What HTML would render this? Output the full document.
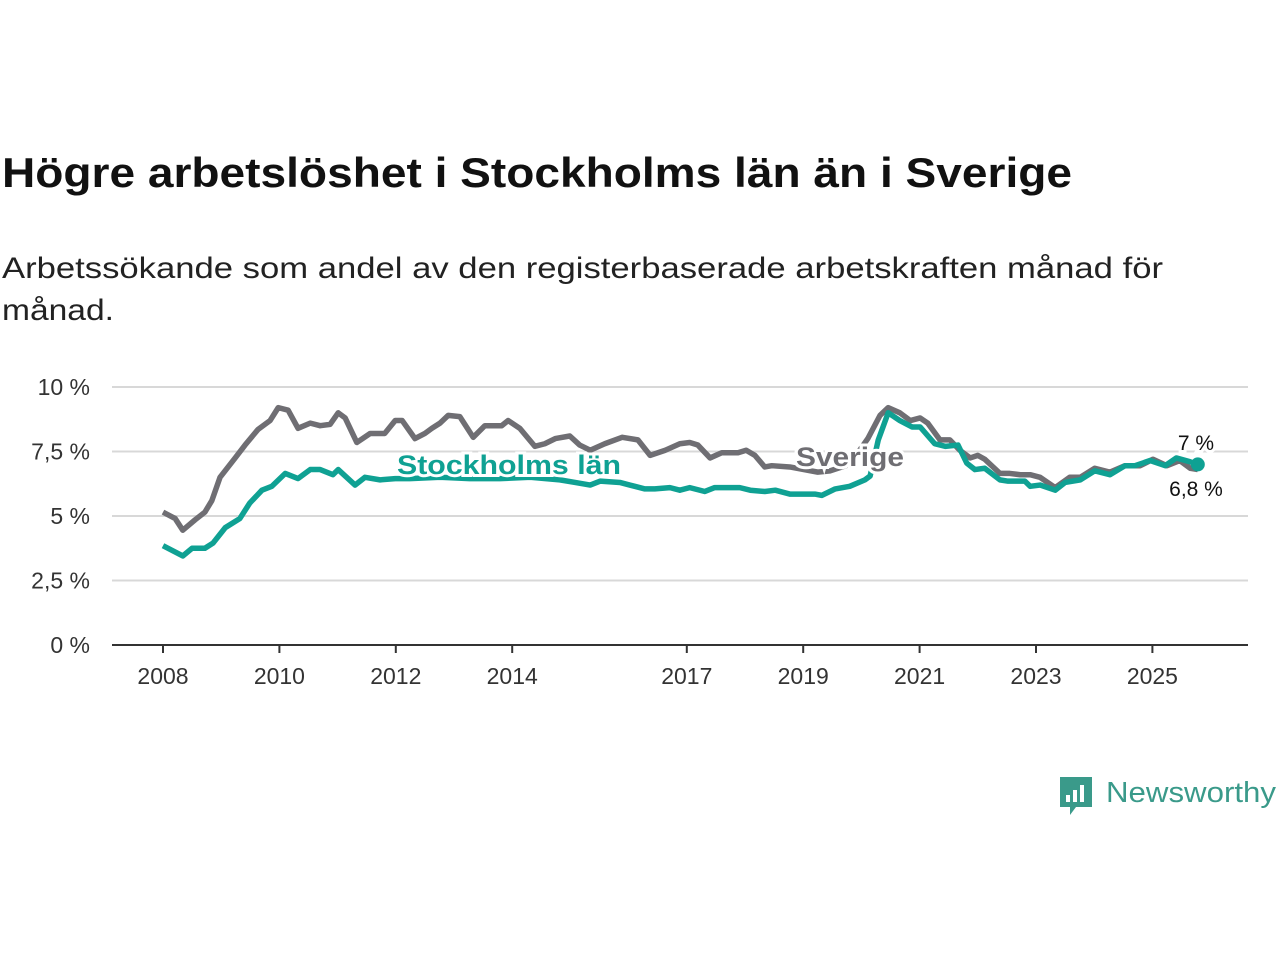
<!DOCTYPE html>
<html><head><meta charset="utf-8"><style>
body{margin:0;background:#fff;width:1280px;height:960px;overflow:hidden;font-family:"Liberation Sans",sans-serif}
</style></head><body>
<svg width="1280" height="960" style="position:absolute;left:0;top:0">
<text x="2" y="187" font-size="42" font-weight="bold" fill="#111" textLength="1070" lengthAdjust="spacingAndGlyphs">Högre arbetslöshet i Stockholms län än i Sverige</text>
<text x="2" y="278" font-size="30" fill="#222" textLength="1161" lengthAdjust="spacingAndGlyphs">Arbetssökande som andel av den registerbaserade arbetskraften månad för</text>
<text x="2" y="320" font-size="30" fill="#222" textLength="112" lengthAdjust="spacingAndGlyphs">månad.</text>
<g id="grid"></g><g id="axis"></g><g id="lines"></g><g id="labels"></g>
<g>
<path d="M1060 777h32v30h-16l-6 8v-8h-10z" fill="#3a9a8a"/>
<rect x="1066" y="795" width="4" height="7" fill="#fff"/><rect x="1073" y="790" width="4" height="12" fill="#fff"/><rect x="1080" y="785" width="4" height="17" fill="#fff"/>
<text x="1106" y="802" font-size="29" fill="#3a9a8a" textLength="170" lengthAdjust="spacingAndGlyphs">Newsworthy</text>
</g>
</svg>
<script>
const yTicks=[0,2.5,5,7.5,10];
const yTickLabels=["0 %","2,5 %","5 %","7,5 %","10 %"];
const xTicks=[2008,2010,2012,2014,2017,2019,2021,2023,2025];
const sverigeDates=[0,.21,.34,.55,.72,.84,.98,1.24,1.41,1.63,1.84,1.98,2.15,2.32,2.53,2.70,2.87,3.01,3.13,3.33,3.56,3.81,3.99,4.11,4.33,4.50,4.62,4.76,4.90,5.10,5.33,5.53,5.82,5.93,6.13,6.39,6.56,6.74,6.99,7.16,7.34,7.59,7.89,8.16,8.37,8.63,8.88,9.05,9.19,9.40,9.60,9.88,10.02,10.17,10.34,10.46,10.77,11.25,11.46,11.80,12.11,12.32,12.46,12.66,12.84,13.01,13.14,13.35,13.52,13.69,13.87,14.00,14.12,14.38,14.55,14.73,14.90,15.07,15.33,15.58,15.76,16.01,16.27,16.53,16.79,17.01,17.25,17.47,17.65,17.78];
const sverigeValues=[5.15,4.9,4.45,4.85,5.15,5.6,6.5,7.25,7.75,8.35,8.7,9.2,9.1,8.4,8.6,8.5,8.55,9.0,8.8,7.85,8.2,8.2,8.7,8.7,8.0,8.2,8.4,8.6,8.9,8.85,8.05,8.5,8.5,8.7,8.4,7.7,7.8,8.0,8.1,7.75,7.55,7.8,8.05,7.95,7.35,7.55,7.8,7.85,7.75,7.25,7.45,7.45,7.55,7.35,6.9,6.95,6.9,6.7,6.75,7.0,8.0,8.9,9.2,9.0,8.7,8.8,8.6,7.95,7.95,7.55,7.25,7.35,7.2,6.65,6.65,6.6,6.6,6.5,6.1,6.5,6.5,6.85,6.7,6.95,6.95,7.2,6.95,7.15,6.85,6.8];
const stockholmDates=[0,.34,.50,.72,.86,1.07,1.32,1.49,1.70,1.87,2.10,2.32,2.53,2.70,2.92,3.01,3.30,3.47,3.73,3.99,4.24,4.76,5.27,5.79,6.31,6.82,7.08,7.34,7.51,7.85,8.02,8.28,8.45,8.71,8.88,9.05,9.31,9.48,9.91,10.09,10.34,10.52,10.77,11.20,11.32,11.55,11.80,12.06,12.15,12.29,12.46,12.66,12.87,13.01,13.26,13.44,13.66,13.81,13.95,14.12,14.38,14.52,14.81,14.90,15.07,15.33,15.50,15.76,16.01,16.27,16.53,16.70,16.96,17.22,17.41,17.65,17.78];
const stockholmValues=[3.85,3.45,3.75,3.75,3.95,4.55,4.9,5.5,6.0,6.15,6.65,6.45,6.8,6.8,6.6,6.8,6.2,6.5,6.4,6.45,6.45,6.5,6.45,6.45,6.5,6.4,6.3,6.2,6.35,6.3,6.2,6.05,6.05,6.1,6.0,6.1,5.95,6.1,6.1,6.0,5.95,6.0,5.85,5.85,5.8,6.05,6.15,6.4,6.55,7.95,9.0,8.7,8.45,8.45,7.8,7.7,7.75,7.05,6.8,6.85,6.4,6.35,6.35,6.15,6.2,6.0,6.3,6.4,6.75,6.6,6.95,6.95,7.15,6.95,7.25,7.1,7.0];
const X=d=>163+d*58.2, XY=y=>163+(y-2008)*58.2, Y=v=>645-v*25.8;
const NS="http://www.w3.org/2000/svg";
function mk(tag,attrs,parent){const e=document.createElementNS(NS,tag);for(const k in attrs)e.setAttribute(k,attrs[k]);document.getElementById(parent).appendChild(e);return e;}
yTicks.forEach((t,i)=>{
  const l=mk('line',{x1:112,x2:1248,y1:Y(t),y2:Y(t),stroke:t===0?'#333':'#d8d8d8','stroke-width':2},'grid');
  
  
  const tx=mk('text',{x:90,y:Y(t)+8,'font-size':23,fill:'#333','text-anchor':'end'},'axis');
  tx.textContent=yTickLabels[i];
  
  
});
xTicks.forEach(t=>{
  const l=mk('line',{x1:XY(t),x2:XY(t),y1:645,y2:653,stroke:'#333','stroke-width':2},'axis');
  
  
  const tx=mk('text',{x:XY(t),y:684,'font-size':23,fill:'#333','text-anchor':'middle'},'axis');
  tx.textContent=t;
  
  
});
function line(d,v,c,name){
  const p=mk('polyline',{points:d.map((x,i)=>X(x)+','+Y(v[i])).join(' '),fill:'none',stroke:c,'stroke-width':5.5,'stroke-linejoin':'round'},'lines');
  
  
}
line(sverigeDates,sverigeValues,'#6f6e73','sverige-line');
line(stockholmDates,stockholmValues,'#0fa193','stockholm-line');
const dot=mk('circle',{cx:X(stockholmDates[stockholmDates.length-1]),cy:Y(stockholmValues[stockholmValues.length-1]),r:7,fill:'#0fa193'},'lines');


function lab(x,y,txt,c,size,w,name,anchor,len){
  const a={x,y,'font-size':size,'font-weight':w,fill:c,stroke:'#fff','stroke-width':6,'paint-order':'stroke','text-anchor':anchor||'start'};
  if(len){a.textLength=len;a.lengthAdjust='spacingAndGlyphs';}
  const t=mk('text',a,'labels');
  t.textContent=txt;
  
  
}
lab(397,474,'Stockholms län','#0fa193',27,'bold','stockholm-label',null,224);
lab(796,466,'Sverige','#6f6e73',27,'bold','sverige-label',null,108);
lab(1196,450,'7 %','#111',21,'normal','stockholm-end-value','middle');
lab(1196,496,'6,8 %','#111',21,'normal','sverige-end-value','middle');
</script>
</body></html>
